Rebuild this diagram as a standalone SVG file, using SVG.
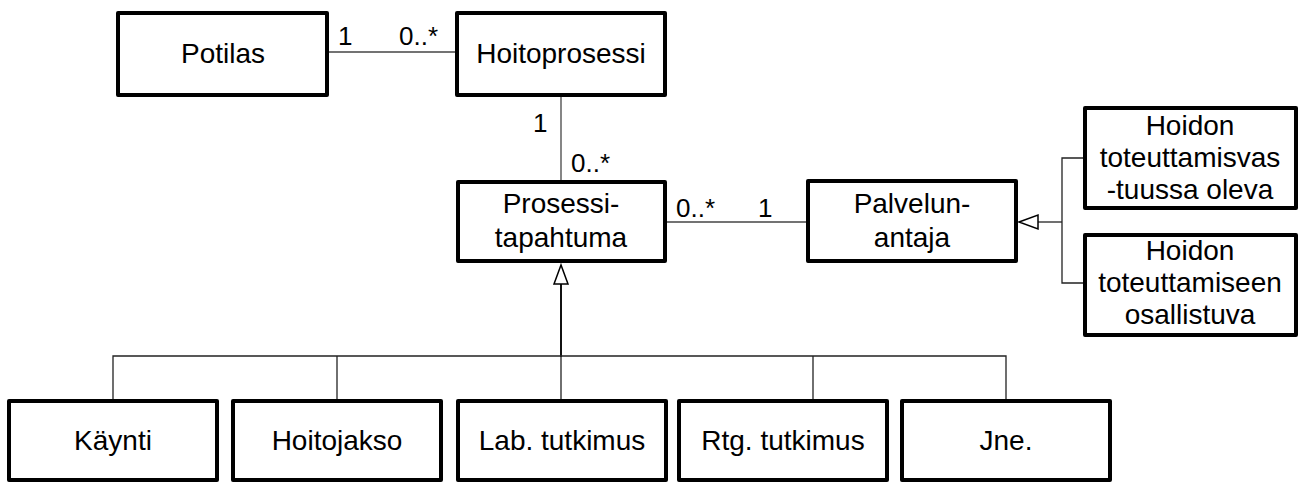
<svg xmlns="http://www.w3.org/2000/svg" width="1300" height="484" viewBox="0 0 1300 484">
  <style>
    .box { fill: #fff; stroke: #000; stroke-width: 4; stroke-linejoin: round; }
    .lbl { font-family: "Liberation Sans", Arial, sans-serif; font-size: 28px; fill: #000; text-anchor: middle; }
    .mult { font-family: "Liberation Sans", Arial, sans-serif; font-size: 26px; fill: #000; }
    .assoc { stroke: #444; stroke-width: 1.3; fill: none; }
    .gen { stroke: #222; stroke-width: 1.3; fill: none; }
    .head { fill: #fff; stroke: #000; stroke-width: 1.5; stroke-linejoin: miter; }
  </style>

  <!-- connectors -->
  <g id="connectors">
    <line class="assoc" x1="329" y1="52" x2="455" y2="52"/>
    <line class="assoc" x1="561" y1="97" x2="561" y2="180"/>
    <line class="assoc" x1="667" y1="222" x2="806" y2="222"/>

    <!-- Palvelunantaja specialisations -->
    <polyline class="gen" points="1083,158 1062,158 1062,283 1083,283"/>
    <line class="gen" x1="1038" y1="222" x2="1062" y2="222"/>
    <polygon class="head" points="1019,222 1038,215 1038,229"/>

    <!-- Prosessitapahtuma specialisations -->
    <line stroke="#111" stroke-width="2" x1="561" y1="284" x2="561" y2="357"/>
    <polyline class="gen" points="113,399 113,356 1006,356 1006,399"/>
    <line class="gen" x1="337" y1="356" x2="337" y2="399"/>
    <line class="gen" x1="561" y1="356" x2="561" y2="399"/>
    <line class="gen" x1="813" y1="356" x2="813" y2="399"/>
    <polygon class="head" points="561,265 554,284 568,284"/>

    <!-- multiplicities -->
    <text class="mult" x="338" y="45">1</text>
    <text class="mult" x="399" y="45">0..*</text>
    <text class="mult" x="533" y="132">1</text>
    <text class="mult" x="571" y="172">0..*</text>
    <text class="mult" x="676" y="217">0..*</text>
    <text class="mult" x="758" y="217">1</text>
  </g>

  <g id="potilas">
    <rect class="box" x="118" y="13" width="209" height="82"/>
    <text class="lbl" x="223" y="63">Potilas</text>
  </g>

  <g id="hoitoprosessi">
    <rect class="box" x="457" y="13" width="208" height="82"/>
    <text class="lbl" x="561" y="63">Hoitoprosessi</text>
  </g>

  <g id="prosessitapahtuma">
    <rect class="box" x="458" y="182" width="207" height="79"/>
    <text class="lbl" x="561" y="213">Prosessi-</text>
    <text class="lbl" x="561" y="247">tapahtuma</text>
  </g>

  <g id="palvelunantaja">
    <rect class="box" x="808" y="181" width="208" height="80"/>
    <text class="lbl" x="912" y="213">Palvelun-</text>
    <text class="lbl" x="912" y="247">antaja</text>
  </g>

  <g id="vastuussa">
    <rect class="box" x="1085" y="108" width="211" height="100"/>
    <text class="lbl" x="1190" y="135">Hoidon</text>
    <text class="lbl" x="1190" y="167">toteuttamisvas</text>
    <text class="lbl" x="1190" y="199">-tuussa oleva</text>
  </g>

  <g id="osallistuva">
    <rect class="box" x="1085" y="235" width="211" height="100"/>
    <text class="lbl" x="1190" y="260">Hoidon</text>
    <text class="lbl" x="1190" y="292">toteuttamiseen</text>
    <text class="lbl" x="1190" y="324">osallistuva</text>
  </g>

  <g id="kaynti">
    <rect class="box" x="9" y="401" width="208" height="79"/>
    <text class="lbl" x="113" y="450">Käynti</text>
  </g>

  <g id="hoitojakso">
    <rect class="box" x="233" y="401" width="208" height="79"/>
    <text class="lbl" x="337" y="450">Hoitojakso</text>
  </g>

  <g id="lab">
    <rect class="box" x="458" y="401" width="208" height="79"/>
    <text class="lbl" x="562" y="450">Lab. tutkimus</text>
  </g>

  <g id="rtg">
    <rect class="box" x="679" y="401" width="208" height="79"/>
    <text class="lbl" x="783" y="450">Rtg. tutkimus</text>
  </g>

  <g id="jne">
    <rect class="box" x="902" y="401" width="208" height="79"/>
    <text class="lbl" x="1006" y="450">Jne.</text>
  </g>
</svg>
